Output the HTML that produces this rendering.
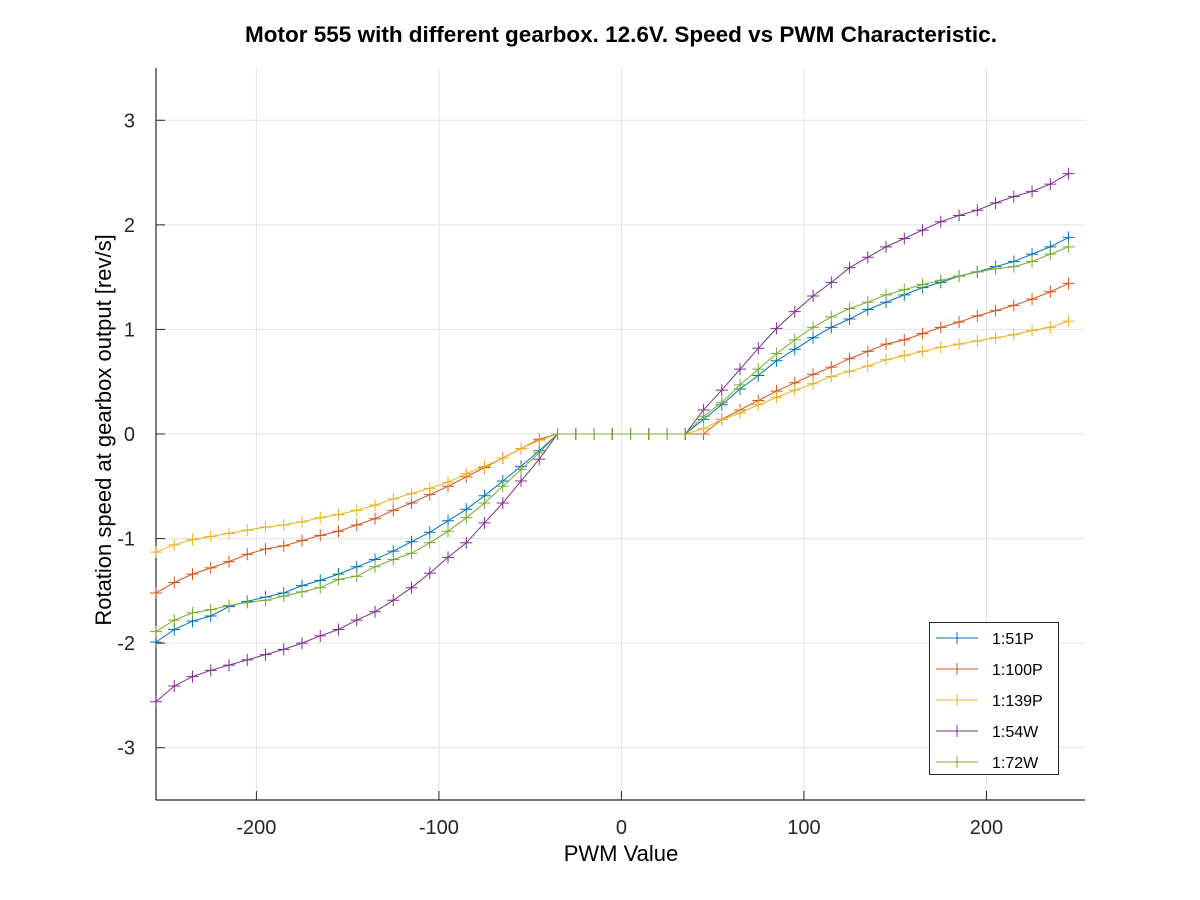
<!DOCTYPE html>
<html><head><meta charset="utf-8"><style>
body{margin:0;background:#fff;}
svg{display:block;font-family:"Liberation Sans",sans-serif;}
</style></head><body>
<svg id="chart" width="1200" height="900" xmlns="http://www.w3.org/2000/svg">
<text x="621" y="42" text-anchor="middle" font-size="22.5" font-weight="bold">Motor 555 with different gearbox. 12.6V. Speed vs PWM Characteristic.</text>
<text x="621" y="861" text-anchor="middle" font-size="22">PWM Value</text>
<text transform="translate(111,430) rotate(-90)" text-anchor="middle" font-size="22">Rotation speed at gearbox output [rev/s]</text>
<g id="grid"></g><g id="axes"></g><g id="series"></g><g id="legend"></g>
</svg>
<script>
const xTicks=[-200,-100,0,100,200];
const yTicks=[-3,-2,-1,0,1,2,3];
const seriesNames=["1:51P","1:100P","1:139P","1:54W","1:72W"];
const seriesColors=["#0072BD","#D95319","#EDB120","#7E2F8E","#77AC30"];
const pwmNeg=[-255,-245,-235,-225,-215,-205,-195,-185,-175,-165,-155,-145,-135,-125,-115,-105,-95,-85,-75,-65,-55,-45];
const pwmZero=[-35,-25,-15,-5,5,15,25,35];
const pwmPos=[45,55,65,75,85,95,105,115,125,135,145,155,165,175,185,195,205,215,225,235,245];
const neg51P=[-1.99,-1.87,-1.79,-1.74,-1.65,-1.60,-1.56,-1.52,-1.45,-1.40,-1.34,-1.27,-1.20,-1.12,-1.03,-0.94,-0.83,-0.72,-0.59,-0.45,-0.31,-0.16];
const pos51P=[0.14,0.28,0.43,0.56,0.70,0.81,0.92,1.02,1.10,1.19,1.26,1.33,1.40,1.45,1.51,1.55,1.60,1.65,1.72,1.79,1.88];
const neg100P=[-1.52,-1.42,-1.34,-1.28,-1.22,-1.15,-1.10,-1.07,-1.02,-0.97,-0.93,-0.87,-0.81,-0.73,-0.66,-0.58,-0.50,-0.41,-0.32,-0.23,-0.14,-0.05];
const pos100P=[0,0.14,0.23,0.32,0.41,0.49,0.57,0.64,0.72,0.79,0.86,0.90,0.96,1.02,1.07,1.13,1.18,1.23,1.29,1.36,1.44];
const neg139P=[-1.13,-1.06,-1.01,-0.98,-0.95,-0.92,-0.89,-0.87,-0.84,-0.80,-0.77,-0.73,-0.68,-0.62,-0.57,-0.52,-0.46,-0.38,-0.31,-0.23,-0.14,-0.06];
const pos139P=[0.05,0.14,0.20,0.28,0.35,0.42,0.48,0.55,0.60,0.65,0.71,0.75,0.79,0.83,0.86,0.89,0.92,0.95,0.99,1.02,1.08];
const neg54W=[-2.56,-2.41,-2.32,-2.26,-2.21,-2.16,-2.11,-2.06,-2.00,-1.93,-1.87,-1.78,-1.70,-1.59,-1.47,-1.33,-1.18,-1.04,-0.85,-0.66,-0.45,-0.24];
const pos54W=[0.23,0.42,0.62,0.82,1.01,1.17,1.32,1.45,1.59,1.69,1.79,1.87,1.95,2.03,2.09,2.14,2.21,2.27,2.32,2.39,2.49];
const neg72W=[-1.89,-1.78,-1.71,-1.68,-1.64,-1.61,-1.59,-1.55,-1.51,-1.47,-1.39,-1.36,-1.27,-1.20,-1.14,-1.04,-0.93,-0.80,-0.66,-0.50,-0.34,-0.18];
const pos72W=[0.17,0.30,0.47,0.62,0.77,0.90,1.02,1.12,1.20,1.26,1.33,1.38,1.43,1.47,1.51,1.55,1.58,1.60,1.65,1.72,1.79];

const NS="http://www.w3.org/2000/svg";
const L=156,R=1085,T=68,B=800,XMIN=-255,XMAX=254,YMIN=-3.5,YMAX=3.5;
const sx=v=>L+(v-XMIN)/(XMAX-XMIN)*(R-L);
const sy=v=>B-(v-YMIN)/(YMAX-YMIN)*(B-T);
function mk(tag,attrs,parent){const e=document.createElementNS(NS,tag);for(const k in attrs)e.setAttribute(k,attrs[k]);parent.appendChild(e);return e;}
const grid=document.getElementById('grid'),axes=document.getElementById('axes'),ser=document.getElementById('series'),leg=document.getElementById('legend');
xTicks.forEach(t=>{
 const g=mk('line',{x1:sx(t),x2:sx(t),y1:T,y2:B,stroke:'#e3e3e3','stroke-width':1},grid);
 
 
 mk('line',{x1:sx(t),x2:sx(t),y1:B,y2:B-9,stroke:'#262626','stroke-width':1},axes);
 const tx=mk('text',{x:sx(t),y:B+34,'text-anchor':'middle','font-size':20,fill:'#262626'},axes);tx.textContent=t;
 
 
});
yTicks.forEach(t=>{
 const g=mk('line',{x1:L,x2:R,y1:sy(t),y2:sy(t),stroke:'#e3e3e3','stroke-width':1},grid);
 
 
 mk('line',{x1:L,x2:L+9,y1:sy(t),y2:sy(t),stroke:'#262626','stroke-width':1},axes);
 const tx=mk('text',{x:L-21,y:sy(t)+7,'text-anchor':'end','font-size':20,fill:'#262626'},axes);tx.textContent=t;
 
 
});
const ax1=mk('line',{x1:L,x2:L,y1:T,y2:B,stroke:'#262626','stroke-width':1.2},axes);


const ax2=mk('line',{x1:L,x2:R,y1:B,y2:B,stroke:'#262626','stroke-width':1.2},axes);



const xs=pwmNeg.concat(pwmZero,pwmPos);
const zeros=pwmZero.map(()=>0);
const allY=[neg51P.concat(zeros,pos51P),neg100P.concat(zeros,pos100P),neg139P.concat(zeros,pos139P),neg54W.concat(zeros,pos54W),neg72W.concat(zeros,pos72W)];
function plus(x,y,c,p){mk('path',{d:`M${x-6},${y}H${x+6}M${x},${y-6}V${y+6}`,stroke:c,'stroke-width':1,fill:'none'},p);}
allY.forEach((ys,i)=>{
 const g=mk('g',{},ser);
 
 
 const pts=xs.map((x,j)=>sx(x).toFixed(1)+','+sy(ys[j]).toFixed(1)).join(' ');
 mk('polyline',{points:pts,fill:'none',stroke:seriesColors[i],'stroke-width':1},g);
 xs.forEach((x,j)=>plus(sx(x),sy(ys[j]),seriesColors[i],g));
});
const box=mk('rect',{x:929.5,y:622.5,width:129,height:152,fill:'#fff',stroke:'#262626','stroke-width':1},leg);


seriesNames.forEach((n,i)=>{
 const y=638+i*31;
 const g=mk('g',{},leg);
 
 
 mk('line',{x1:936,x2:978,y1:y,y2:y,stroke:seriesColors[i],'stroke-width':1},g);
 plus(957,y,seriesColors[i],g);
 const t=mk('text',{x:992,y:y+6,'font-size':16,fill:'#000'},g);t.textContent=n;
});
</script>
</body></html>
